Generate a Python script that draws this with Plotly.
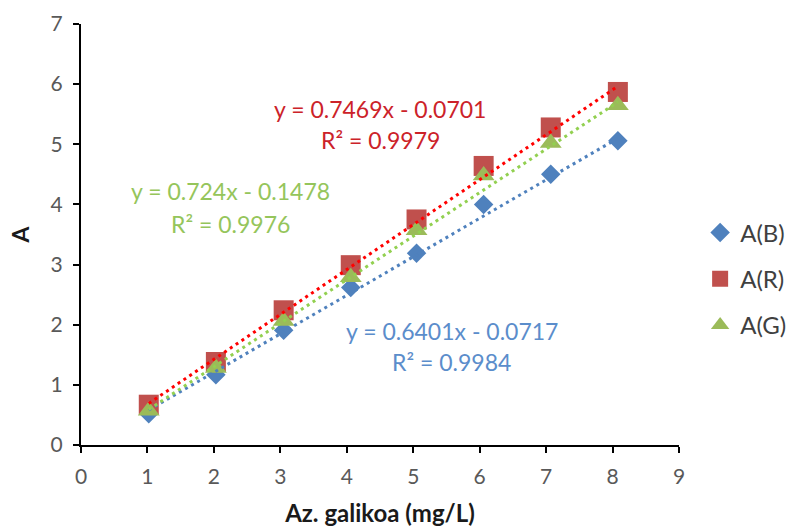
import plotly.graph_objects as go

# Data
conc = [1.02, 2.03, 3.05, 4.06, 5.05, 6.06, 7.07, 8.08]
a_b = [0.52, 1.17, 1.91, 2.62, 3.19, 4.00, 4.50, 5.06]
a_r = [0.67, 1.38, 2.24, 2.99, 3.75, 4.64, 5.28, 5.87]
a_g = [0.57, 1.28, 2.06, 2.79, 3.57, 4.48, 5.02, 5.65]

# Trendline coefficients as printed on the chart
fit_b = (0.6401, -0.0717, 0.9984)
fit_r = (0.7469, -0.0701, 0.9979)
fit_g = (0.724, -0.1478, 0.9976)

x_ticks = [0, 1, 2, 3, 4, 5, 6, 7, 8, 9]
y_ticks = [0, 1, 2, 3, 4, 5, 6, 7]

FONT = "Lato, 'Open Sans', sans-serif"

fig = go.Figure()

series = [
    ("A(B)", a_b, "diamond", 15, "#4F81BD"),
    ("A(R)", a_r, "square", 20, "#C0504D"),
    ("A(G)", a_g, "triangle-up", 19, "#9BBB59"),
]
for name, ys, sym, sz, col in series:
    fig.add_trace(go.Scatter(
        x=conc, y=ys, mode="markers", name=name, legendgroup=name,
        marker=dict(symbol=sym, size=sz, color=col, line=dict(width=0)),
    ))

x_line = [min(conc), max(conc)]
for (m, b, _), col in [(fit_b, "#4F81BD"), (fit_g, "#92D050"), (fit_r, "#FF0000")]:
    fig.add_trace(go.Scatter(
        x=x_line, y=[m * xv + b for xv in x_line], mode="lines",
        line=dict(color=col, width=3, dash="3px,4px"),
        showlegend=False, hoverinfo="skip",
    ))

def label(fit):
    m, b, r2 = fit
    sign = "-" if b < 0 else "+"
    return f"y = {m:g}x {sign} {abs(b):.4f}", f"R² = {r2:.4f}"

ann = []
for fit, col, xc, y1, y2 in [
    (fit_r, "#CC2229", 4.50, 5.585, 5.07),
    (fit_g, "#95C55B", 2.245, 4.22, 3.67),
    (fit_b, "#5B8DCB", 5.58, 1.89, 1.376),
]:
    l1, l2 = label(fit)
    for txt, yy in [(l1, y1), (l2, y2)]:
        ann.append(dict(x=xc, y=yy, xref="x", yref="y", text=txt, showarrow=False,
                        font=dict(family=FONT, size=23, color=col),
                        xanchor="center", yanchor="middle"))

axis_common = dict(
    showline=True, linecolor="black", linewidth=2,
    ticks="outside", ticklen=6, tickwidth=2, tickcolor="black",
    showgrid=False, zeroline=False,
    tickfont=dict(family=FONT, size=21, color="#595959"),
)

fig.update_layout(
    width=792, height=529,
    margin=dict(l=80.5, r=113, t=24, b=84.3, autoexpand=False),
    paper_bgcolor="white", plot_bgcolor="white",
    font=dict(family=FONT),
    xaxis=dict(range=[0, 9], tickvals=x_ticks, ticklabelstandoff=6,
               title=dict(text="<b>Az. galikoa (mg/L)</b>", standoff=18,
                          font=dict(family=FONT, size=24, color="#1a1a1a")),
               **axis_common),
    yaxis=dict(range=[0, 7], tickvals=y_ticks, ticklabelstandoff=6,
               title=dict(text="<b>A</b>", standoff=15,
                          font=dict(family=FONT, size=23, color="#1a1a1a")),
               **axis_common),
    legend=dict(xref="container", yref="container", x=0.884, y=0.4726,
                xanchor="left", yanchor="middle",
                font=dict(family=FONT, size=24, color="#404040"),
                tracegroupgap=12, bgcolor="rgba(0,0,0,0)", itemwidth=30),
    annotations=ann,
    showlegend=True,
)

fig.write_html("out.html")
